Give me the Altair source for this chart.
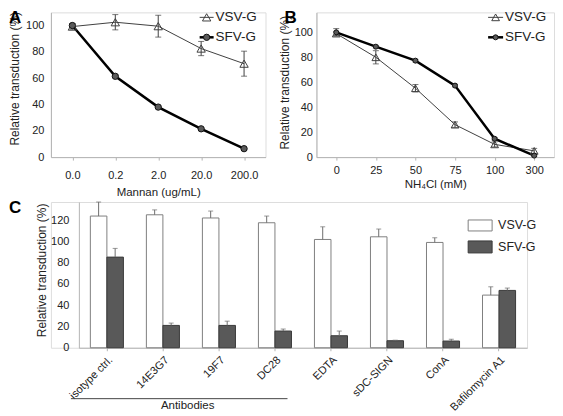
import altair as alt
import pandas as pd

# ---------------- data ----------------
a_cats = ["0.0", "0.2", "2.0", "20.0", "200.0"]
a_vsv = [99.2, 102.5, 99.5, 82.5, 71.0]
a_vsv_err = [2.0, 5.8, 8.3, 5.4, 9.5]
a_sfv = [100.0, 61.4, 38.0, 21.5, 6.4]
a_sfv_err = [1.5, 1.0, 1.0, 1.0, 0.8]

b_cats = ["0", "25", "50", "75", "100", "300"]
b_vsv = [99.0, 80.0, 55.2, 26.0, 10.2, 5.0]
b_vsv_err = [1.5, 5.3, 3.0, 2.2, 2.0, 2.0]
b_sfv = [100.0, 88.5, 77.3, 57.3, 14.7, 1.2]
b_sfv_err = [3.0, 1.0, 1.0, 1.0, 1.0, 0.8]

c_cats = ["isotype ctrl.", "14E3G7", "19F7", "DC28", "EDTA", "sDC-SIGN", "ConA", "Bafilomycin A1"]
c_vsv = [123.8, 125.0, 122.0, 117.5, 101.8, 104.3, 99.0, 49.5]
c_vsv_err = [13.2, 4.6, 6.5, 6.3, 11.9, 7.3, 4.4, 7.8]
c_sfv = [85.2, 21.0, 21.0, 15.7, 11.3, 6.6, 6.3, 53.9]
c_sfv_err = [8.2, 2.2, 4.0, 1.9, 4.4, 0.5, 1.7, 2.2]

series = ["VSV-G", "SFV-G"]
YTITLE = "Relative transduction (%)"
TXT = "#222222"
AXC = "#b4b4b4"


def one():
    return alt.Chart(alt.Data(values=[{"k": 0}]))


def label_text(txt, x, y, size, bold=False, align="left", baseline="middle"):
    return one().mark_text(text=txt, fontSize=size, fontWeight="bold" if bold else "normal",
                           align=align, baseline=baseline, color="#000000" if bold else TXT).encode(
        x=alt.value(x), y=alt.value(y))


def line_legend(x0, x1, y, label, lw, vsv, size, fs):
    rule = one().mark_rule(color="#000000" if not vsv else "#404040", strokeWidth=lw).encode(
        x=alt.value(x0), x2=alt.value(x1), y=alt.value(y))
    if vsv:
        pt = one().mark_point(shape="triangle-up", filled=False, color="#404040", strokeWidth=1,
                              size=size, opacity=1).encode(x=alt.value((x0 + x1) / 2), y=alt.value(y))
    else:
        pt = one().mark_point(shape="circle", filled=True, fill="#5a5a5a", stroke="#111111",
                              strokeWidth=1, size=size, opacity=1).encode(
            x=alt.value((x0 + x1) / 2), y=alt.value(y))
    txt = label_text(label, x1 + 2, y, fs)
    return [rule, pt, txt]


def line_panel(cats, vsv, vsv_err, sfv, sfv_err, width, height, ymax, xtitle,
               ytitle_x, ytitle_y, ylab_pad, xlab_pad, xtitle_y, letter, letter_x,
               leg_x0, leg_x1, tri_size, circ_size, leg_fs):
    rows = []
    for s, vals, errs in [("VSV-G", vsv, vsv_err), ("SFV-G", sfv, sfv_err)]:
        for c, v, e in zip(cats, vals, errs):
            rows.append({"x": c, "series": s, "v": v, "lo": v - e, "hi": v + e})
    df = pd.DataFrame(rows)
    base = alt.Chart(df)
    xax = alt.Axis(title=xtitle, labelAngle=0, labelFontSize=11, labelColor=TXT, labelPadding=xlab_pad,
                   tickSize=3, tickColor=AXC, domainColor=AXC, titleFontSize=11.5, titleFontWeight="normal",
                   titleColor=TXT, titleY=xtitle_y, titleBaseline="middle")
    yax = alt.Axis(title=YTITLE, values=[0, 20, 40, 60, 80, 100], grid=False, labelFontSize=11,
                   labelColor=TXT, labelPadding=ylab_pad, tickSize=0, domainColor=AXC,
                   titleFontSize=12, titleFontWeight="normal", titleColor=TXT, titleAngle=270,
                   titleX=ytitle_x, titleY=ytitle_y, titleAlign="center", titleBaseline="middle")
    xs = alt.Scale(type="point", padding=0.5)
    ys = alt.Scale(domain=[0, ymax], nice=False, zero=True)
    X = alt.X("x:N", sort=cats, scale=xs, axis=xax)

    def Y(f):
        return alt.Y(f, type="quantitative", scale=ys, axis=yax, title=YTITLE)

    layers = []
    for s in series:
        sb = base.transform_filter(alt.datum.series == s)
        vs = s == "VSV-G"
        col = "#404040" if vs else "#000000"
        layers.append(sb.mark_line(color=col, strokeWidth=1 if vs else 2.5).encode(x=X, y=Y("v")))
        layers.append(sb.mark_rule(color="#404040", strokeWidth=1).encode(x=X, y=Y("lo"), y2="hi:Q"))
        layers.append(sb.mark_tick(color="#404040", size=6, thickness=1).encode(x=X, y=Y("lo")))
        layers.append(sb.mark_tick(color="#404040", size=6, thickness=1).encode(x=X, y=Y("hi")))
    for s in series:
        sb = base.transform_filter(alt.datum.series == s)
        if s == "VSV-G":
            layers.append(sb.mark_point(shape="triangle-up", filled=False, color="#404040", strokeWidth=1,
                                        size=tri_size, opacity=1).encode(x=X, y=Y("v")))
        else:
            layers.append(sb.mark_point(shape="circle", filled=True, fill="#5a5a5a", stroke="#111111",
                                        strokeWidth=1, size=circ_size, opacity=1).encode(x=X, y=Y("v")))
    layers += line_legend(leg_x0, leg_x1, 5, "VSV-G", 1, True, tri_size, leg_fs)
    layers += line_legend(leg_x0, leg_x1, 25, "SFV-G", 2.5, False, circ_size, leg_fs)
    layers.append(label_text(letter, letter_x, -2, 17, bold=True, baseline="top"))
    return alt.layer(*layers).properties(width=width, height=height)


panel_a = line_panel(a_cats, a_vsv, a_vsv_err, a_sfv, a_sfv_err, 215, 145, 110, "Mannan (ug/mL)",
                     -36, 66, 7, 9, 35, "A", -42, 149, 163, 70, 40, 13.5)
panel_b = line_panel(b_cats, b_vsv, b_vsv_err, b_sfv, b_sfv_err, 238, 145, 116, "NH\u2084Cl (mM)",
                     -32, 70, 4, 4, 27, "B", -32, 172, 187, 60, 25, 13.5)

# ---------------- panel C ----------------
# plot origin shared with panel A (x=50); C's own axis sits 28px further right
SH = 28
crows = []
for s, vals, errs in [("VSV-G", c_vsv, c_vsv_err), ("SFV-G", c_sfv, c_sfv_err)]:
    for c, v, e in zip(c_cats, vals, errs):
        crows.append({"cat": c, "series": s, "v": v, "hi": v + e})
cdf = pd.DataFrame(crows)
cbase = alt.Chart(cdf)
cxax = alt.Axis(title=None, labelAngle=315, labelAlign="right", labelBaseline="top", labelFontSize=11,
                labelColor=TXT, labelPadding=3, tickSize=3, tickColor=AXC, domainColor=AXC)
cyax = alt.Axis(title=YTITLE, values=[0, 20, 40, 60, 80, 100, 120], grid=False, labelFontSize=11,
                labelColor=TXT, labelPadding=10, tickSize=0, domainColor=AXC, titleFontSize=12,
                titleFontWeight="normal", titleColor=TXT, titleAngle=270, titleX=-37, titleY=68,
                titleAlign="center", titleBaseline="middle", offset=-SH)
CX = alt.X("cat:N", sort=c_cats,
           scale=alt.Scale(range=[SH, SH + 449], paddingInner=0.41, paddingOuter=0.205), axis=cxax)
CXO = alt.XOffset("series:N", sort=series, scale=alt.Scale(paddingInner=0, paddingOuter=0))
cys = alt.Scale(domain=[0, 137], nice=False)


def CY(f):
    return alt.Y(f, type="quantitative", scale=cys, axis=cyax, title=YTITLE)


bars = cbase.mark_bar(strokeWidth=1).encode(
    x=CX, xOffset=CXO, y=CY("v"),
    fill=alt.Fill("series:N", scale=alt.Scale(domain=series, range=["#ffffff", "#595959"]), legend=None),
    stroke=alt.Stroke("series:N", scale=alt.Scale(domain=series, range=["#808080", "#3a3a3a"]), legend=None),
)
err = cbase.mark_rule(color="#6e6e6e", strokeWidth=1).encode(x=CX, xOffset=CXO, y=CY("v"), y2="hi:Q")
cap = cbase.mark_tick(color="#6e6e6e", size=5, thickness=1).encode(x=CX, xOffset=CXO, y=CY("hi"))

c_layers = [bars, err, cap]
c_layers.append(one().mark_rect(fill="#ffffff", stroke="#808080", strokeWidth=1).encode(
    x=alt.value(SH + 390), x2=alt.value(SH + 414), y=alt.value(18), y2=alt.value(29)))
c_layers.append(one().mark_rect(fill="#595959", stroke="#3a3a3a", strokeWidth=1).encode(
    x=alt.value(SH + 390), x2=alt.value(SH + 414), y=alt.value(39), y2=alt.value(51)))
c_layers.append(label_text("VSV-G", SH + 420, 23.5, 12.5))
c_layers.append(label_text("SFV-G", SH + 420, 45, 12.5))
c_layers.append(one().mark_rule(color="#444444", strokeWidth=1).encode(
    x=alt.value(SH - 8), x2=alt.value(SH + 209), y=alt.value(197)))
c_layers.append(label_text("Antibodies", SH + 109, 204, 11.5, align="center"))
c_layers.append(label_text("C", SH - 70, -2, 17, bold=True, baseline="top"))
panel_c = alt.layer(*c_layers).properties(width=SH + 449, height=146)

top = alt.hconcat(panel_a, panel_b, spacing=11)
chart = alt.vconcat(top, panel_c, spacing=0).properties(padding=0).configure_view(
    strokeWidth=0).configure(font="Liberation Sans")

chart.save("out.html", embed_options={"renderer": "svg", "actions": False})
